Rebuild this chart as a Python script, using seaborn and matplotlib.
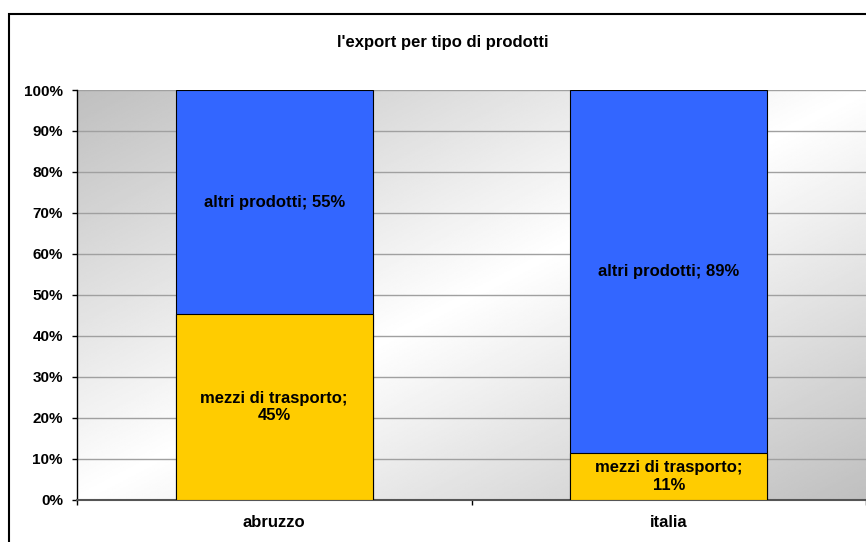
import numpy as np
import pandas as pd
import matplotlib.pyplot as plt
from matplotlib.patches import Rectangle
from matplotlib.ticker import PercentFormatter, FixedLocator
import seaborn as sns

# Data (percent share of export)
regions = ["abruzzo", "italia"]
mezzi = [45.2, 11.3]
altri = [54.8, 88.7]
mezzi_label = "mezzi di trasporto"
altri_label = "altri prodotti"
title = "l'export per tipo di prodotti"

sns.set_style("white")
plt.rcParams['font.family'] = ['Liberation Sans', 'DejaVu Sans']
plt.rcParams['font.weight'] = 'bold'
plt.rcParams['text.color'] = 'black'
plt.rcParams['xtick.color'] = 'black'
plt.rcParams['ytick.color'] = 'black'
plt.rcParams['axes.labelcolor'] = 'black'

df = pd.DataFrame({"region": regions, "mezzi": mezzi, "altri": altri})
df["totale"] = df["mezzi"] + df["altri"]

fig = plt.figure(figsize=(8.66, 5.42), dpi=100)
ax = fig.add_axes([77 / 866, 1 - 499.5 / 542, 789 / 866, 409.5 / 542])

# diagonal grey-white-grey gradient behind the plot
u = np.linspace(0, 1, 300)
U, V = np.meshgrid(u, u[::-1])
g = 1 - np.abs(U - V) * 0.25
ax.imshow(g, cmap="gray", vmin=0, vmax=1, extent=[0, 1, 0, 1],
          transform=ax.transAxes, aspect="auto", zorder=0)

# stacked bars: full height in blue, bottom share in yellow on top of it
sns.barplot(data=df, x="region", y="totale", color="#3366FF", saturation=1,
            edgecolor="black", linewidth=0.8, width=0.5, errorbar=None, ax=ax, zorder=3)
sns.barplot(data=df, x="region", y="mezzi", color="#FFCC00", saturation=1,
            edgecolor="black", linewidth=0.8, width=0.5, errorbar=None, ax=ax, zorder=3)

for i, row in df.iterrows():
    ax.text(i, row["mezzi"] / 2, f"{mezzi_label};\n{row['mezzi']:.0f}%",
            ha="center", va="center", fontsize=12, weight="bold", color="black", zorder=5)
    ax.text(i, row["mezzi"] + row["altri"] / 2, f"{altri_label}; {row['altri']:.0f}%",
            ha="center", va="center", fontsize=12, weight="bold", color="black", zorder=5)

ax.set_xlim(-0.5, 1.5)
ax.set_ylim(0, 100)
ax.set_yticks(np.arange(0, 101, 10))
ax.yaxis.set_major_formatter(PercentFormatter(decimals=0))
ax.set_xlabel("")
ax.set_ylabel("")

ax.set_axisbelow(True)
ax.yaxis.grid(True, color="#a0a0a0", linewidth=1)
ax.xaxis.grid(False)

for s in ["top", "right"]:
    ax.spines[s].set_visible(False)
ax.spines["left"].set_color("black")
ax.spines["left"].set_linewidth(1)
ax.spines["bottom"].set_color("#555555")
ax.spines["bottom"].set_linewidth(1.5)

ax.tick_params(axis="y", length=3.6, width=1, color="black", labelcolor="black",
               pad=6.5, labelsize=11, left=True)
ax.tick_params(axis="x", which="major", length=0, pad=11, labelsize=12, labelcolor="black")
ax.xaxis.set_minor_locator(FixedLocator([-0.5, 0.5, 1.5]))
ax.tick_params(axis="x", which="minor", length=3.6, width=1, color="black", bottom=True)
for lab in ax.get_xticklabels() + ax.get_yticklabels():
    lab.set_fontweight("bold")

fig.text(0.5115, 1 - 42 / 542, title, ha="center", va="center", fontsize=12,
         weight="bold", color="black")

# outer chart frame
fig.patches.append(Rectangle((9 / 866, -0.1), 1.2, 0.1 + (1 - 14 / 542), fill=False,
                             edgecolor="black", linewidth=1.5, transform=fig.transFigure))

fig.savefig("out.png", dpi=100)
